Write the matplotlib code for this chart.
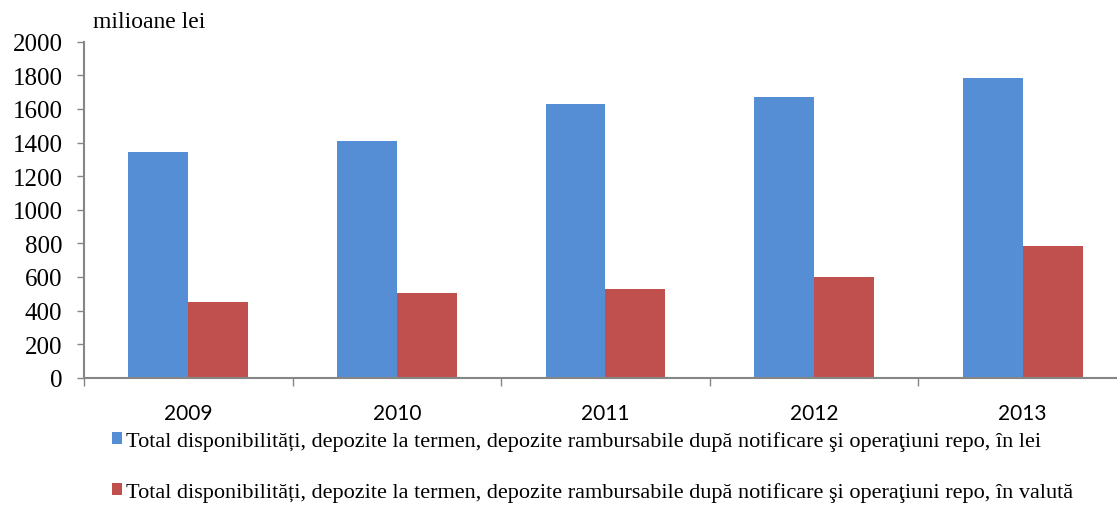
import matplotlib
matplotlib.use("Agg")
import matplotlib.pyplot as plt
from matplotlib.patches import Patch
import numpy as np

years = ["2009", "2010", "2011", "2012", "2013"]
lei = [1342, 1407, 1630, 1672, 1783]
valuta = [449, 504, 530, 598, 785]
label_lei = "Total disponibilități, depozite la termen, depozite rambursabile după notificare şi operaţiuni repo, în lei"
label_valuta = "Total disponibilități, depozite la termen, depozite rambursabile după notificare şi operaţiuni repo, în valută"

BLUE = "#558ED5"
RED = "#C0504D"
GREY = "#868686"

fig = plt.figure(figsize=(11.17, 5.06), dpi=100)
ax = fig.add_axes([84 / 1117, 127.3 / 506, 1043 / 1117, 336 / 506])

x = np.arange(len(years))
w = 0.2876
ax.bar(x - w / 2, lei, w, color=BLUE, edgecolor="none")
ax.bar(x + w / 2, valuta, w, color=RED, edgecolor="none")

ax.set_xlim(-0.5, len(years) - 0.5)
ax.set_ylim(0, 2000)
ax.set_yticks(range(0, 2001, 200))
ax.tick_params(axis="y", direction="out", length=5, width=1, color=GREY, pad=10.5,
               labelsize=18)
for t in ax.get_yticklabels():
    t.set_family("Liberation Serif")

# category boundaries as major ticks, names as minor ticks
ax.set_xticks(np.arange(-0.5, len(years), 1.0))
ax.set_xticklabels([])
ax.set_xticks(x, minor=True)
ax.set_xticklabels(years, minor=True, family="Lato", fontsize=15)
ax.tick_params(axis="x", which="major", direction="out", length=6, width=1, color=GREY)
ax.tick_params(axis="x", which="minor", length=0, pad=18)

for s in ["top", "right"]:
    ax.spines[s].set_visible(False)
for s in ["left", "bottom"]:
    ax.spines[s].set_color(GREY)
    ax.spines[s].set_linewidth(1.5)

fig.text(93 / 1117, 1 - 22 / 506, "milioane lei", family="Liberation Serif",
         fontsize=17, ha="left", va="center")

handles = [Patch(facecolor=BLUE, edgecolor="none"), Patch(facecolor=RED, edgecolor="none")]
fig.legend(handles, [label_lei, label_valuta], loc="upper left",
           bbox_to_anchor=(112 / 1117, 1 - 432 / 506), frameon=False,
           prop={"family": "Liberation Serif", "size": 16},
           handlelength=0.45, handleheight=0.45, handletextpad=0.2,
           labelspacing=1.4, borderaxespad=0, borderpad=0)

fig.savefig("out.png", dpi=100)
